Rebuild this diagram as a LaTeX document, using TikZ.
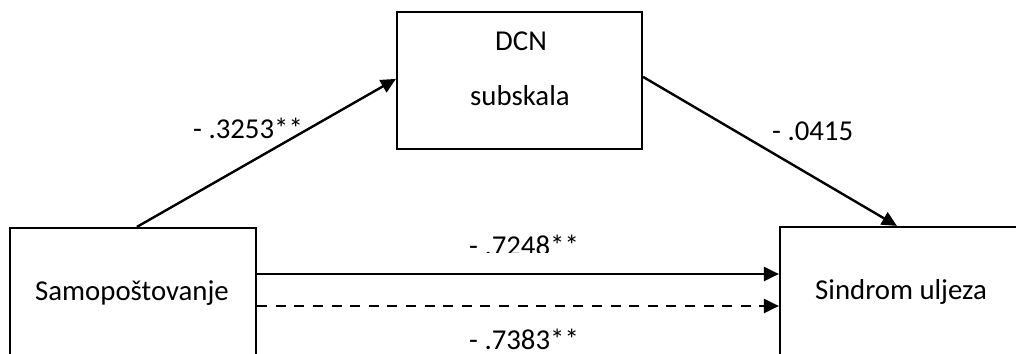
\documentclass[tikz,border=0pt]{standalone}
\usepackage{fontspec}
\setmainfont{Carlito}
\usetikzlibrary{arrows.meta}
\begin{document}
\begin{tikzpicture}[x=1pt,y=-1pt,
  box/.style={draw,line width=2.2pt,inner sep=0pt},
  conn/.style={line width=2.4pt,-{Triangle[length=15pt,width=14pt]}},
  dashconn/.style={conn,dash pattern=on 10pt off 8.6pt},
  lbl/.style={anchor=base west,inner sep=0pt},
  every node/.style={font=\fontsize{28.8}{34}\selectfont}]
\useasboundingbox (0,0) rectangle (1016,353);
\begin{scope}
\clip (0,0) rectangle (1016,353);
\node[box,minimum width=246pt,minimum height=130pt] (self) at (133,293) {};
\node[box,minimum width=246pt,minimum height=130pt] (imp) at (903,292) {};
\node[box,minimum width=245pt,minimum height=137pt] (dcn) at (519.5,80.5) {};
\node[lbl] (tself) at (35,300) {Samopoštovanje};
\node[lbl] (timp) at (815,299) {Sindrom uljeza};
\node[lbl] (tdcn1) at (495,50) {DCN};
\node[lbl] (tdcn2) at (470,105) {subskala};
\draw[conn] ([xshift=128pt]self.north west) -- ([yshift=-68pt]dcn.north west);
\draw[conn] ([yshift=-66pt]dcn.north east) -- ([xshift=118pt]imp.north west);
\draw[conn] (self.east |- 0,274) -- (imp.west |- 0,274);
\draw[dashconn] (self.east |- 0,306) -- (imp.west |- 0,306);
\node[lbl] (l1) at (193,138) {- .3253**};
\node[lbl] (l2) at (772,140) {- .0415};
\node[lbl] (l4) at (469,349) {- .7383**};
\end{scope}
\begin{scope}
\clip (400,220) rectangle (650,252);
\node[lbl] (l3) at (469,255) {- .7248**};
\end{scope}
\end{tikzpicture}
\end{document}
